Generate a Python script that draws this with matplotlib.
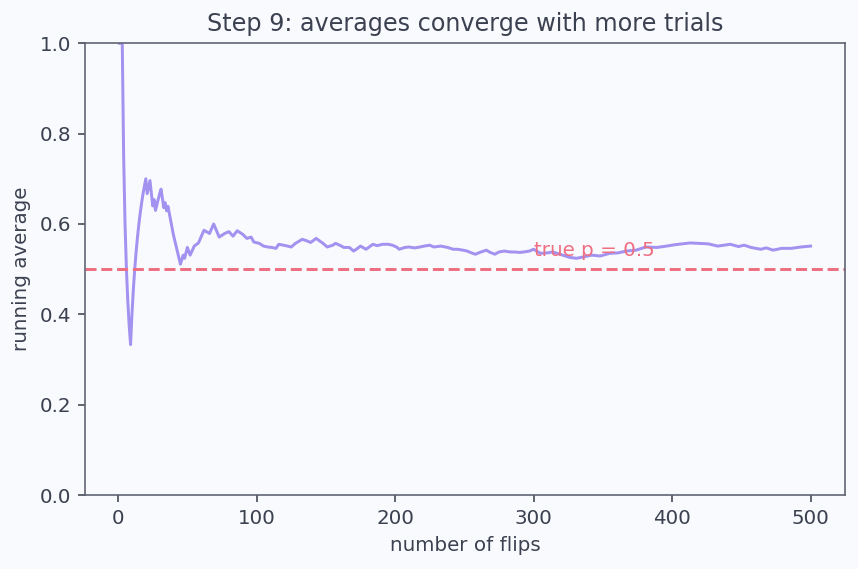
import numpy as np
import matplotlib
matplotlib.use('Agg')
from matplotlib import pyplot as plt

# running average of coin flips
flips = [1, 2, 3, 4, 5, 6, 7, 8, 9, 10, 11, 12, 13, 14, 15, 16, 17, 18, 19, 20,
         21, 22, 23, 24, 25, 26, 27, 28, 29, 30, 31, 32, 33, 34, 35, 36, 40, 44, 45,
         47, 48, 50, 52, 55, 58, 62, 66, 69, 73, 77, 80, 83, 86, 90, 93, 96, 98,
         102, 105, 108, 111, 114, 116, 121, 125, 128, 133, 136, 139, 143, 148, 151,
         155, 157, 160, 163, 167, 170, 172, 175, 179, 184, 187, 191, 195, 198, 201,
         203, 207, 210, 214, 218, 221, 225, 228, 233, 238, 242, 245, 249, 252, 256,
         258, 262, 266, 268, 272, 275, 279, 283, 286, 290, 293, 297, 300, 305, 310,
         314, 319, 326, 331, 336, 342, 348, 355, 361, 367, 374, 381, 389, 396, 402,
         413, 420, 426, 433, 442, 448, 452, 457, 464, 468, 473, 479, 486, 493, 500]
running_avg = [1.0, 1.0, 1.0, 0.75, 0.6, 0.5, 0.429, 0.375, 0.333, 0.4, 0.455, 0.5,
               0.538, 0.571, 0.6, 0.625, 0.647, 0.667, 0.684, 0.70, 0.667, 0.682,
               0.696, 0.667, 0.64, 0.654, 0.63, 0.643, 0.655, 0.667, 0.677, 0.656,
               0.636, 0.647, 0.629, 0.639, 0.575, 0.523, 0.511,
               0.531, 0.524, 0.548, 0.531, 0.551, 0.558, 0.586, 0.579, 0.600, 0.571,
               0.579, 0.583, 0.573, 0.585, 0.577, 0.568, 0.571, 0.560,
               0.557, 0.551, 0.549, 0.548, 0.546, 0.555, 0.552, 0.549, 0.557, 0.566,
               0.563, 0.559, 0.568, 0.557, 0.549,
               0.553, 0.557, 0.553, 0.548, 0.548, 0.540, 0.544, 0.551, 0.544, 0.555,
               0.552, 0.555, 0.555, 0.553, 0.549,
               0.544, 0.548, 0.549, 0.547, 0.549, 0.551, 0.553, 0.549, 0.551, 0.548,
               0.544, 0.544, 0.542, 0.540, 0.535,
               0.533, 0.538, 0.542, 0.538, 0.533, 0.538, 0.540, 0.538, 0.538, 0.537,
               0.538, 0.540, 0.544, 0.535, 0.536,
               0.538, 0.533, 0.526, 0.524, 0.527, 0.531, 0.529, 0.535, 0.536, 0.540,
               0.542, 0.549, 0.548, 0.551, 0.554,
               0.558, 0.557, 0.556, 0.551, 0.555, 0.550, 0.553, 0.548, 0.544, 0.547,
               0.542, 0.546, 0.546, 0.549, 0.551]
true_p = 0.5

bg = '#f9fafd'
txt = '#3b4150'
plt.rcParams['font.family'] = ['DejaVu Sans']

fig = plt.figure(figsize=(6, 569 / 143), dpi=143, facecolor=bg)
ax = fig.add_axes([0.099, 0.130, 0.886, 0.794], facecolor=bg)

ax.plot(flips, running_avg, color='#a392f0', lw=1.5)
ax.axhline(true_p, color='#ee6f82', ls='--', lw=1.5)
ax.text(300, 0.53, 'true p = 0.5', color='#ee6f82', fontsize=10)

ax.set_ylim(0, 1)
ax.set_title('Step 9: averages converge with more trials', fontsize=12, color=txt)
ax.set_xlabel('number of flips', fontsize=10, color=txt)
ax.set_ylabel('running average', fontsize=10, color=txt)
ax.tick_params(colors=txt, labelsize=10)
for s in ax.spines.values():
    s.set_color('#5a5f6e')

fig.savefig('out.png', dpi=143, facecolor=bg)
